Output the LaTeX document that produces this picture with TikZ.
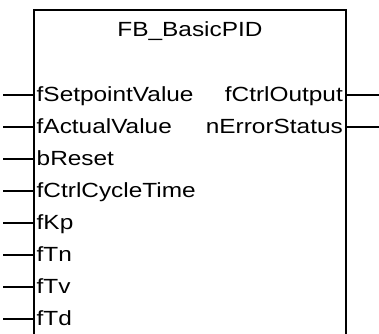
\documentclass[tikz,border=0pt]{standalone}
\usepackage{fontspec}
\usepackage{tikz}
\usetikzlibrary{positioning}
\newfontfamily\fbfont[FakeStretch=1.19]{Liberation Sans}

\begin{document}
\begin{tikzpicture}[x=1pt,y=-1pt,line cap=butt,line join=miter,
  boxline/.style={line width=2pt,color=black},
  pinline/.style={line width=1.8pt,color=black},
  pinname/.style={inner sep=0pt,font=\fbfont\fontsize{20.5}{24}\selectfont,text=black}]
\useasboundingbox (0,0) rectangle (379,333);
% block outline, open at the bottom
\draw [boxline] (34,334) -- (34,10) -- (346,10) -- (346,334);
\node [pinname,anchor=base] (title) at (190,36.5) {FB\_BasicPID};
% inputs
\foreach \name [count=\i from 0] in {fSetpointValue,fActualValue,bReset,fCtrlCycleTime,fKp,fTn,fTv,fTd} {
  \coordinate (inend\i) at (3,{95+32*\i});
  \coordinate (inpin\i) at (34,{95+32*\i});
  \node [pinname,anchor=base west] (in\i) at (36.5,{101+32*\i}) {\name};
  \draw [pinline] (inend\i) -- (inpin\i);
}
% outputs
\foreach \name [count=\i from 0] in {fCtrlOutput,nErrorStatus} {
  \coordinate (outpin\i) at (346,{95+32*\i});
  \coordinate (outend\i) at (379,{95+32*\i});
  \node [pinname,anchor=base east] (out\i) at (343,{101+32*\i}) {\name};
  \draw [pinline] (outpin\i) -- (outend\i);
}
\end{tikzpicture}
\end{document}
